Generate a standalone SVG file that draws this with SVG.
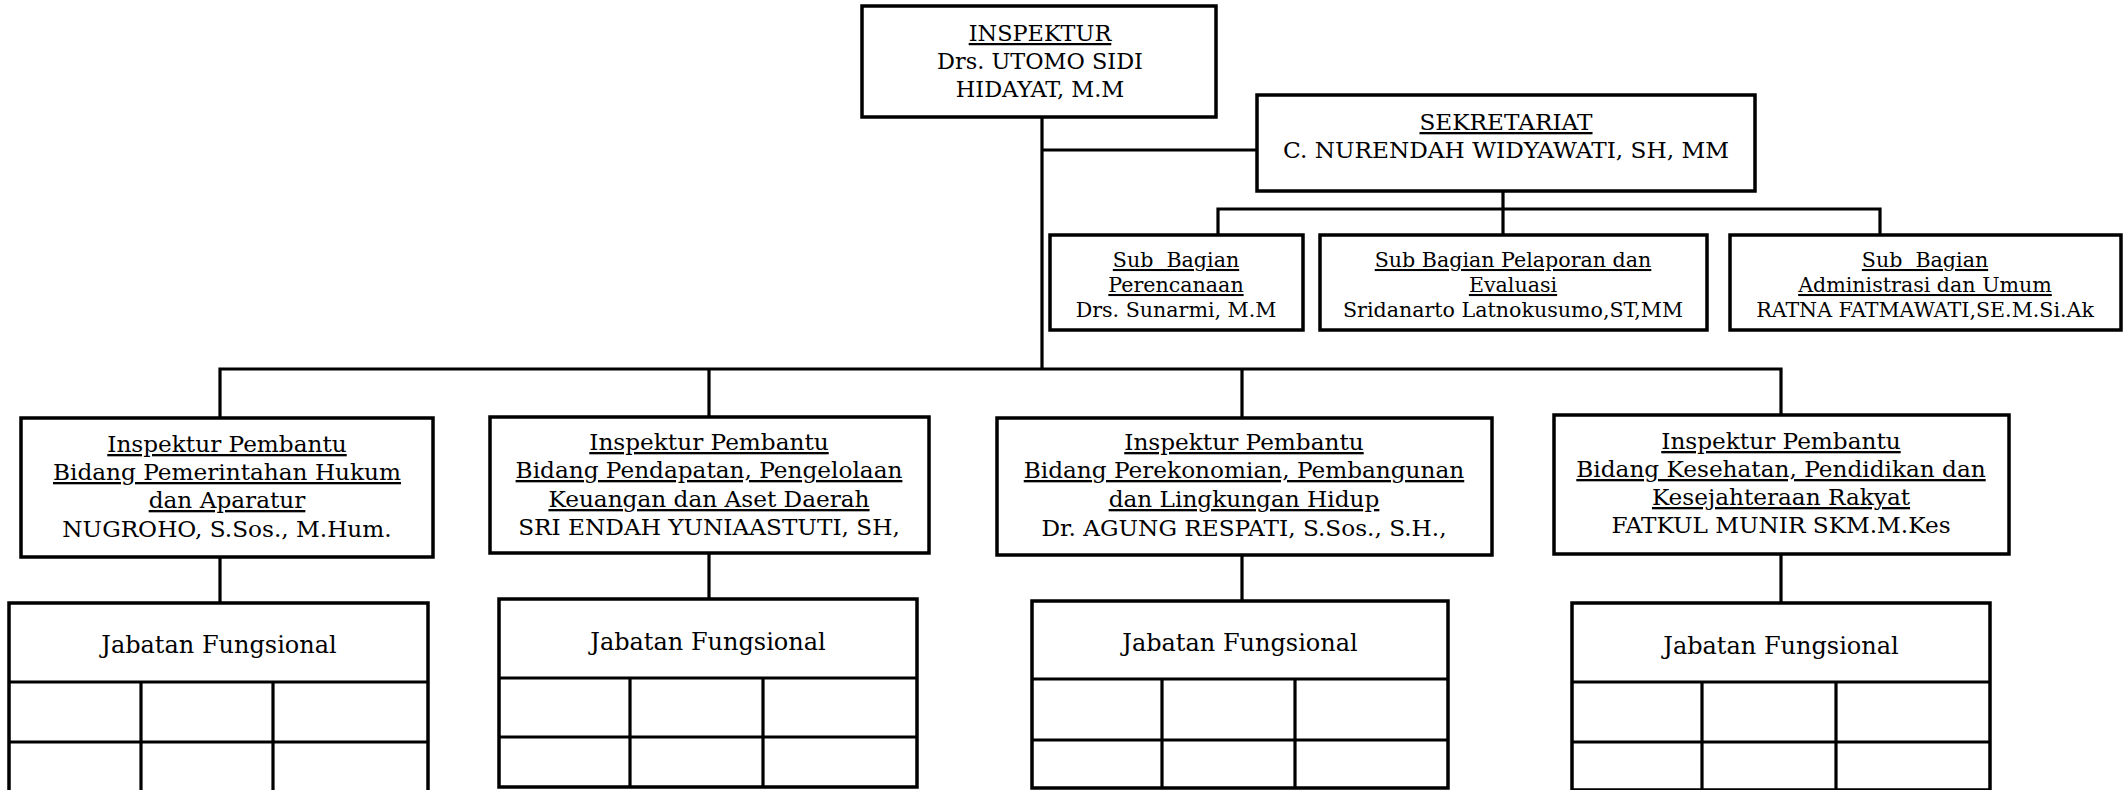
<svg xmlns="http://www.w3.org/2000/svg" width="2124" height="790" viewBox="0 0 2124 790">
<style>
.box{fill:#fff;stroke:#000;stroke-width:3.5}
.ln{fill:none;stroke:#000;stroke-width:3.2}
text{font-family:"DejaVu Serif","Liberation Serif",serif;fill:#000;text-anchor:middle}
.t{font-size:23.2px}
.h{font-size:22.4px}
.s{font-size:20.6px}
.j{font-size:24px}
.u{text-decoration:underline}
</style>
<rect width="2124" height="790" fill="#fff"/>
<g id="connectors">
<path class="ln" d="M1042 117V369M1042 150H1257M1503 191V235M1218 235V209H1880V235"/>
<path class="ln" d="M220 418V369H1781V415M709 369V417M1242 369V418"/>
<path class="ln" d="M220 557V603M709 553V599M1242 555V601M1781 554V603"/>
</g>
<g id="inspektur">
<rect class="box" x="862" y="6" width="354" height="111"/>
<text class="h" x="1040" y="41"><tspan class="u">INSPEKTUR</tspan></text>
<text class="h" x="1040" y="69">Drs. UTOMO SIDI</text>
<text class="h" x="1040" y="97">HIDAYAT, M.M</text>
</g>
<g id="sekretariat">
<rect class="box" x="1257" y="95" width="498" height="96"/>
<text class="t" x="1506" y="130"><tspan class="u">SEKRETARIAT</tspan></text>
<text class="t" x="1506" y="158">C. NURENDAH WIDYAWATI, SH, MM</text>
</g>
<g id="sub-perencanaan">
<rect class="box" x="1050" y="235" width="253" height="95"/>
<text class="s" x="1176" y="267"><tspan class="u">Sub&#160; Bagian</tspan></text>
<text class="s" x="1176" y="292"><tspan class="u">Perencanaan</tspan></text>
<text class="s" x="1176" y="317">Drs. Sunarmi, M.M</text>
</g>
<g id="sub-pelaporan">
<rect class="box" x="1320" y="235" width="387" height="95"/>
<text class="s" x="1513" y="267"><tspan class="u">Sub Bagian Pelaporan dan</tspan></text>
<text class="s" x="1513" y="292"><tspan class="u">Evaluasi</tspan></text>
<text class="s" x="1513" y="317">Sridanarto Latnokusumo,ST,MM</text>
</g>
<g id="sub-administrasi">
<rect class="box" x="1730" y="235" width="391" height="95"/>
<text class="s" x="1925" y="267"><tspan class="u">Sub&#160; Bagian</tspan></text>
<text class="s" x="1925" y="292"><tspan class="u">Administrasi dan Umum</tspan></text>
<text class="s" x="1925" y="317">RATNA FATMAWATI,SE.M.Si.Ak</text>
</g>
<g id="irban-1">
<rect class="box" x="21" y="418" width="412" height="139"/>
<text class="t" x="227" y="452"><tspan class="u">Inspektur Pembantu</tspan></text>
<text class="t" x="227" y="480"><tspan class="u">Bidang Pemerintahan Hukum</tspan></text>
<text class="t" x="227" y="508"><tspan class="u">dan Aparatur</tspan></text>
<text class="t" x="227" y="537">NUGROHO, S.Sos., M.Hum.</text>
</g>
<g id="irban-2">
<rect class="box" x="490" y="417" width="439" height="136"/>
<text class="t" x="709" y="450"><tspan class="u">Inspektur Pembantu</tspan></text>
<text class="t" x="709" y="478"><tspan class="u">Bidang Pendapatan, Pengelolaan</tspan></text>
<text class="t" x="709" y="507"><tspan class="u">Keuangan dan Aset Daerah</tspan></text>
<text class="t" x="709" y="535">SRI ENDAH YUNIAASTUTI, SH,</text>
</g>
<g id="irban-3">
<rect class="box" x="997" y="418" width="495" height="137"/>
<text class="t" x="1244" y="450"><tspan class="u">Inspektur Pembantu</tspan></text>
<text class="t" x="1244" y="478"><tspan class="u">Bidang Perekonomian, Pembangunan</tspan></text>
<text class="t" x="1244" y="507"><tspan class="u">dan Lingkungan Hidup</tspan></text>
<text class="t" x="1244" y="536">Dr. AGUNG RESPATI, S.Sos., S.H.,</text>
</g>
<g id="irban-4">
<rect class="box" x="1554" y="415" width="455" height="139"/>
<text class="t" x="1781" y="449"><tspan class="u">Inspektur Pembantu</tspan></text>
<text class="t" x="1781" y="477"><tspan class="u">Bidang Kesehatan, Pendidikan dan</tspan></text>
<text class="t" x="1781" y="505"><tspan class="u">Kesejahteraan Rakyat</tspan></text>
<text class="t" x="1781" y="533">FATKUL MUNIR SKM.M.Kes</text>
</g>
<g id="jf-1">
<rect class="box" x="9" y="603" width="419" height="190"/>
<path class="ln" d="M9 682H428M9 742H428M141 682V793M273 682V793"/>
<text class="j" x="219" y="653">Jabatan Fungsional</text>
</g>
<g id="jf-2">
<rect class="box" x="499" y="599" width="418" height="188"/>
<path class="ln" d="M499 678H917M499 737H917M630 678V787M763 678V787"/>
<text class="j" x="708" y="650">Jabatan Fungsional</text>
</g>
<g id="jf-3">
<rect class="box" x="1032" y="601" width="416" height="187"/>
<path class="ln" d="M1032 679H1448M1032 740H1448M1162 679V788M1295 679V788"/>
<text class="j" x="1240" y="651">Jabatan Fungsional</text>
</g>
<g id="jf-4">
<rect class="box" x="1572" y="603" width="418" height="187"/>
<path class="ln" d="M1572 682H1990M1572 742H1990M1702 682V790M1836 682V790"/>
<text class="j" x="1781" y="654">Jabatan Fungsional</text>
</g>
</svg>
